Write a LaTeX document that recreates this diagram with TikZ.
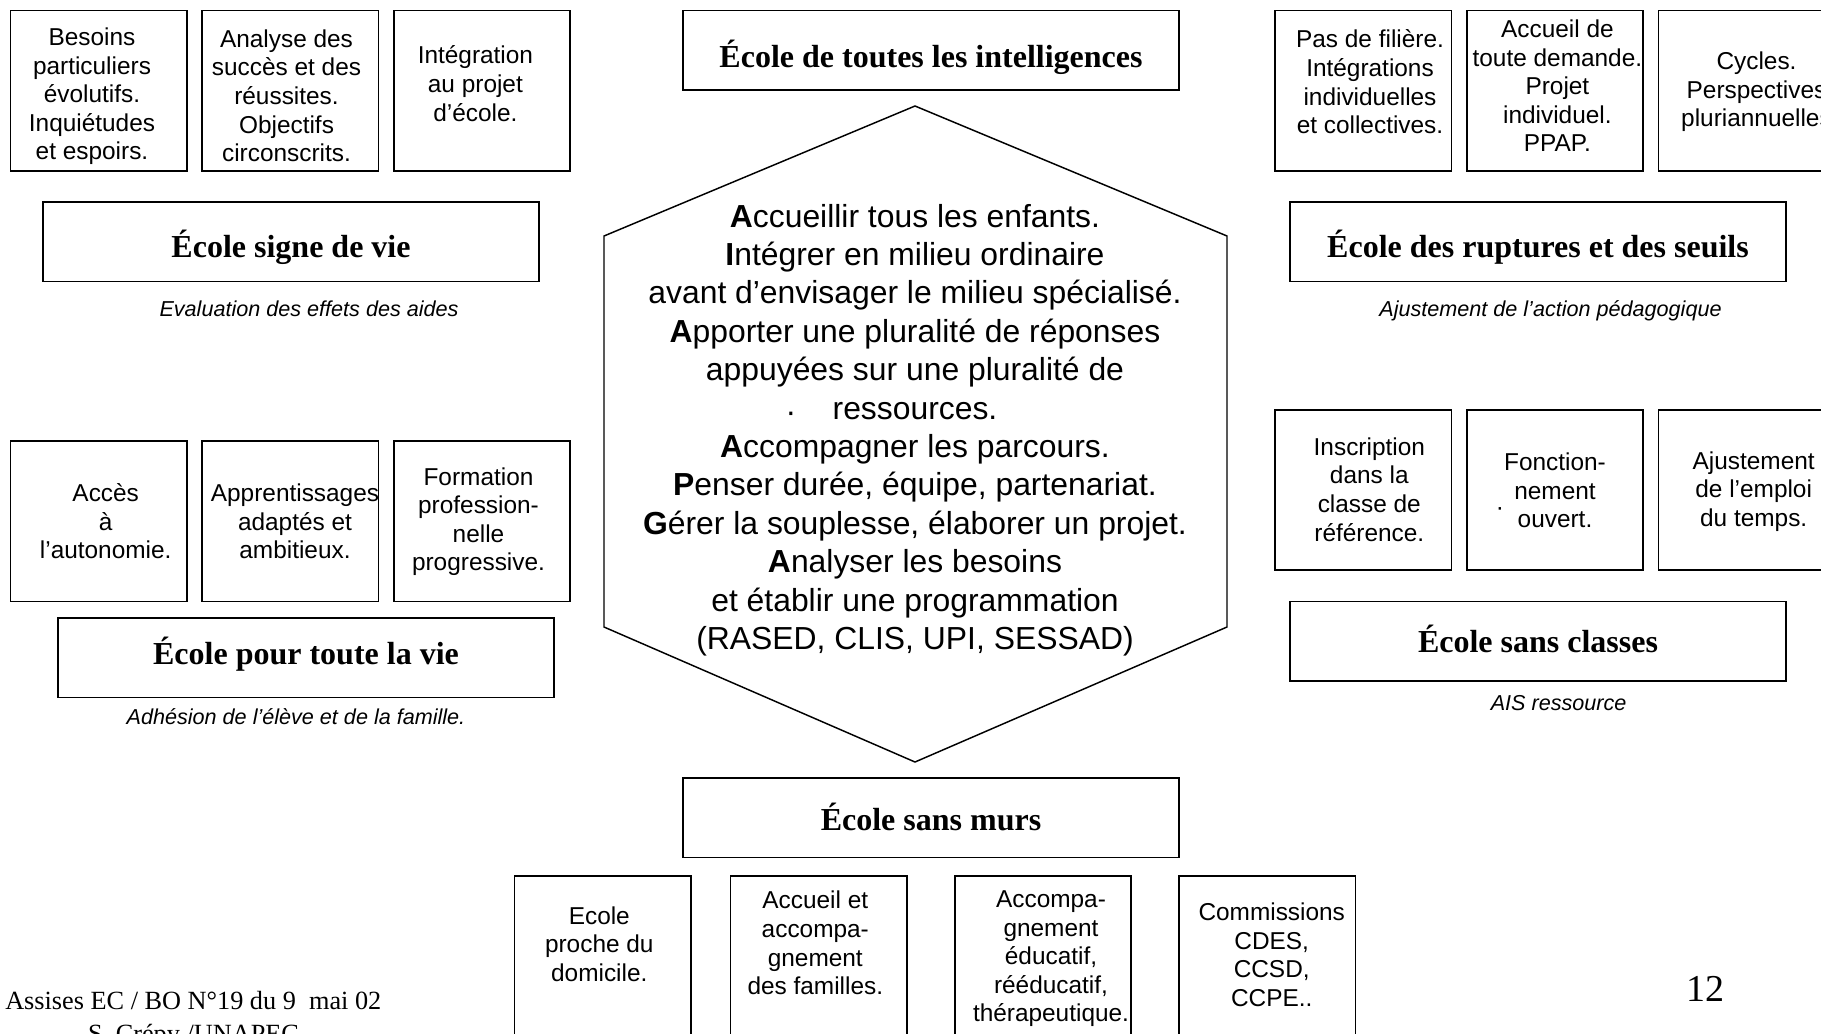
\documentclass[tikz,border=0pt]{standalone}
\usepackage{fontspec}
\setmainfont{Liberation Serif}
\setsansfont{Liberation Sans}
\newfontfamily\arialf{Liberation Sans}
\newfontfamily\timesf{Liberation Serif}
\begin{document}
\begin{tikzpicture}[x=0.75pt, y=-0.75pt,
  frame/.style={draw=black, line width=1.3pt, inner sep=0pt, outer sep=0pt, anchor=north west},
  smallbox/.style={frame, minimum width=132.4pt, minimum height=120.2pt},
  tallbox/.style={frame, minimum width=132.4pt, minimum height=190pt},
  titlebox/.style={frame, minimum width=372pt, minimum height=59.6pt},
  titletext/.style={font=\timesf\bfseries\fontsize{24}{28}\selectfont, inner sep=0pt},
  btext/.style={align=center, font=\arialf\fontsize{18.3}{21.4}\selectfont, inner sep=0pt},
  captext/.style={font=\arialf\itshape\fontsize{16.2}{19}\selectfont, inner sep=0pt},
  hexline/.style={draw=black, line width=1.1pt, line join=miter},
  hextext/.style={align=center, font=\arialf\fontsize{23.9}{28.8}\selectfont, inner sep=0pt},
  foot/.style={font=\timesf\fontsize{19.7}{23}\selectfont, inner sep=0pt}]
\useasboundingbox (0,0) rectangle (1821,1033);
\fill[white] (0,0) rectangle (1821,1033);
\clip (0,0) rectangle (1821,1033);

% top-left group
\node[smallbox] (b1) at (10.5,10.5) {};
\node[btext] (t1) at (92,96.5) {Besoins\\particuliers\\évolutifs.\\Inquiétudes\\et espoirs.};
\node[smallbox] (b2) at (202,10.5) {};
\node[btext] (t2) at (286.5,95.8) {Analyse des\\succès et des\\réussites.\\Objectifs\\circonscrits.};
\node[smallbox] (b3) at (393.7,10.5) {};
\node[btext] (t3) at (475.4,83.6) {Intégration\\au projet\\d’école.};
\node[titlebox] (signe) at (43,202) {};
\node[titletext] (signet) at ([yshift=-4.5pt]signe.center) {École signe de vie};
\node[captext] (csigne) at (309,309) {Evaluation des effets des aides};

% top center
\node[titlebox] (intel) at (683,10.5) {};
\node[titletext] (intelt) at ([yshift=-5.2pt]intel.center) {École de toutes les intelligences};

% top-right group
\node[smallbox] (b4) at (1275,10.5) {};
\node[btext] (t4) at (1370,81.9) {Pas de filière.\\Intégrations\\individuelles\\et collectives.};
\node[smallbox] (b5) at (1466.8,10.5) {};
\node[btext] (t5) at (1557.4,86) {Accueil de\\toute demande.\\Projet\\individuel.\\PPAP.};
\node[smallbox] (b6) at (1658.5,10.5) {};
\node[btext] (t6) at (1756.5,92) {Cycles.\\Perspectives\\pluriannuelles};
\node[titlebox] (rupt) at (1290,202) {};
\node[titletext] (ruptt) at ([yshift=-3.8pt]rupt.center) {École des ruptures et des seuils};
\node[captext] (crupt) at (1550.5,311) {Ajustement de l’action pédagogique};

% middle-left group
\node[smallbox] (b7) at (10.5,441.3) {};
\node[btext] (t7) at (105.7,521.5) {Accès\\à\\l’autonomie.};
\node[smallbox] (b8) at (202,441.3) {};
\node[btext] (t8) at (295,521.5) {Apprentissages\\adaptés et\\ambitieux.};
\node[smallbox] (b9) at (393.7,441.3) {};
\node[btext] (t9) at (478.5,521.5) {Formation\\profession-\\nelle\\progressive.};
\node[titlebox] (vie) at (58,618) {};
\node[titletext] (viet) at ([yshift=2.5pt]vie.center) {École pour toute la vie};
\node[captext] (cvie) at (296,716.6) {Adhésion de l’élève et de la famille.};

% middle-right group
\node[smallbox] (b10) at (1275,410) {};
\node[btext] (t10) at (1369.3,489.5) {Inscription\\dans la\\classe de\\référence.};
\node[smallbox] (b11) at (1466.8,410) {};
\node[btext] (t11) at (1555,490.7) {Fonction-\\nement\\ouvert.};
\node[btext] (d11) at (1500,512) {·};
\node[smallbox] (b12) at (1658.5,410) {};
\node[btext] (t12) at (1753.7,491.3) {Ajustement\\de l’emploi\\du temps.};
\node[titlebox] (classes) at (1290,601.6) {};
\node[titletext] (classest) at ([yshift=2pt]classes.center) {École sans classes};
\node[captext] (cclasses) at (1558.6,702.6) {AIS ressource};

% hexagon
\coordinate (h1) at (915,106);
\coordinate (h2) at (1227,236);
\coordinate (h3) at (1227,627);
\coordinate (h4) at (915,762);
\coordinate (h5) at (604,627);
\coordinate (h6) at (604,236);
\draw[hexline] (h1) -- (h2) -- (h3) -- (h4) -- (h5) -- (h6) -- cycle;
\node[hextext] (hex) at (915,430) {{\bfseries A}ccueillir tous les enfants.\\
{\bfseries I}ntégrer en milieu ordinaire\\
avant d’envisager le milieu spécialisé.\\
{\bfseries A}pporter une pluralité de réponses\\
appuyées sur une pluralité de\\
ressources.\\
{\bfseries A}ccompagner les parcours.\\
{\bfseries P}enser durée, équipe, partenariat.\\
{\bfseries G}érer la souplesse, élaborer un projet.\\
{\bfseries A}nalyser les besoins\\
et établir une programmation\\
(RASED, CLIS, UPI, SESSAD)};
\node[hextext] (hdot) at (791,417) {·};

% bottom group
\node[titlebox] (murs) at (683,778) {};
\node[titletext] (murst) at ([yshift=0.5pt]murs.center) {École sans murs};
\node[tallbox] (bb1) at (514.5,876) {};
\node[btext] (tb1) at (599.3,944.2) {Ecole\\proche du\\domicile.};
\node[tallbox] (bb2) at (730.5,876) {};
\node[btext] (tb2) at (815.3,943) {Accueil et\\accompa-\\gnement\\des familles.};
\node[tallbox] (bb3) at (954.7,876) {};
\node[btext] (tb3) at (1051,958.8) {Accompa-\\gnement\\éducatif,\\rééducatif,\\thérapeutique.};
\node[tallbox] (bb4) at (1179,876) {};
\node[btext] (tb4) at (1271.7,954.7) {Commissions\\CDES,\\CCSD,\\CCPE..};

% footer
\node[foot, anchor=base west] (foot1) at (5,1009) {Assises EC / BO N°19 du 9\ \ mai 02};
\node[foot, anchor=base] (foot2) at (193.5,1042) {S. Crépy /UNAPEC};
\node[font=\timesf\fontsize{28.5}{30}\selectfont, inner sep=0pt] (page) at (1705,989) {12};
\end{tikzpicture}
\end{document}
